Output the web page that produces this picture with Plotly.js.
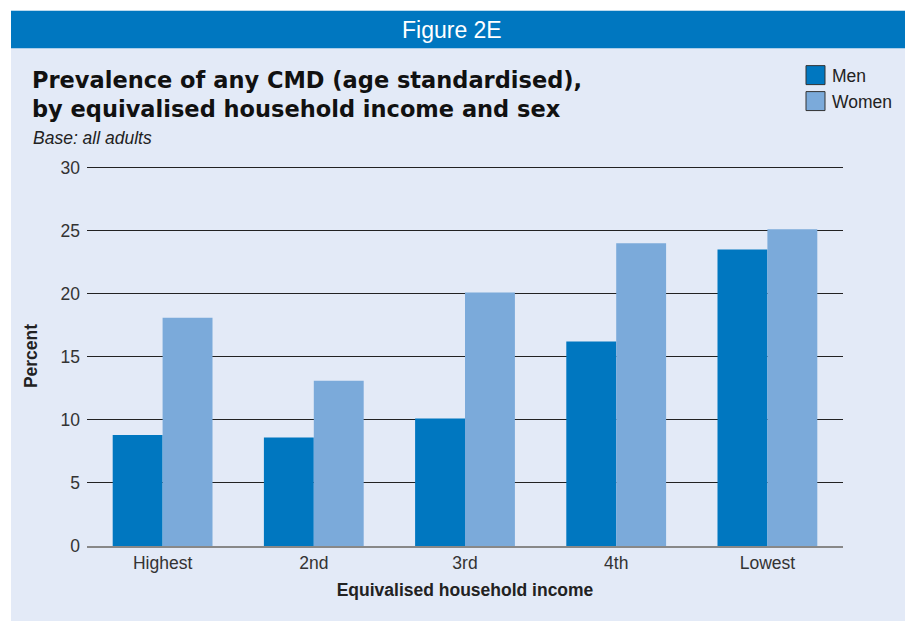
<!DOCTYPE html>
<html>
<head>
<meta charset="utf-8">
<script src="https://cdn.plot.ly/plotly-3.0.1.min.js"></script>
<style>
html,body{margin:0;padding:0;background:#fff;}
#chart{width:905px;height:621px;}
</style>
</head>
<body>
<div id="chart"></div>
<script>
const categories = ["Highest", "2nd", "3rd", "4th", "Lowest"];
const menValues = [8.8, 8.6, 10.1, 16.2, 23.5];
const womenValues = [18.1, 13.1, 20.1, 24.0, 25.1];
const seriesNames = ["Men", "Women"];
const yTicks = [0, 5, 10, 15, 20, 25, 30];

const W = 905, H = 621;
const M = {l: 87, r: 62, t: 165.5, b: 75};
const pw = W - M.l - M.r, ph = H - M.t - M.b;
const px = x => (x - M.l) / pw;
const py = y => (H - M.b - y) / ph;

const FONT = "Liberation Sans, Arial, sans-serif";
const TFONT = "DejaVu Sans, Liberation Sans, sans-serif";
const menColor = "#0077C0";
const womenColor = "#7BAADA";

const traces = [
  {type: "bar", name: seriesNames[0], x: categories, y: menValues,
   marker: {color: menColor}, showlegend: false, hoverinfo: "x+y"},
  {type: "bar", name: seriesNames[1], x: categories, y: womenValues,
   marker: {color: womenColor}, showlegend: false, hoverinfo: "x+y"}
];

const shapes = [
  {type: "rect", xref: "paper", yref: "paper", x0: px(11), x1: px(905), y0: py(621), y1: py(10),
   fillcolor: "#E3EAF7", line: {width: 0}, layer: "below"},
  {type: "rect", xref: "paper", yref: "paper", x0: px(11), x1: px(905), y0: py(47.5), y1: py(10),
   fillcolor: "#0077C0", line: {width: 0}, layer: "below"},
  {type: "rect", xref: "paper", yref: "paper", x0: px(806), x1: px(825), y0: py(84), y1: py(65),
   fillcolor: menColor, line: {color: "#333", width: 1}},
  {type: "rect", xref: "paper", yref: "paper", x0: px(806), x1: px(825), y0: py(110), y1: py(91),
   fillcolor: womenColor, line: {color: "#333", width: 1}}
];

const annotations = [
  {text: "Figure 2E", xref: "paper", yref: "paper", x: px(452), y: py(29), xanchor: "center", yanchor: "middle",
   showarrow: false, font: {family: FONT, size: 23, color: "#fff"}},
  {text: "Prevalence of any CMD (age standardised),<br>by equivalised household income and sex",
   xref: "paper", yref: "paper", x: px(30), y: py(64), xanchor: "left", yanchor: "top", align: "left",
   showarrow: false, font: {family: TFONT, size: 22.5, color: "#111", weight: "bold"}},
  {text: "<i>Base: all adults</i>", xref: "paper", yref: "paper", x: px(31), y: py(137), xanchor: "left", yanchor: "middle",
   showarrow: false, font: {family: FONT, size: 17.5, color: "#222"}},
  {text: seriesNames[0], xref: "paper", yref: "paper", x: px(830), y: py(75), xanchor: "left", yanchor: "middle",
   showarrow: false, font: {family: FONT, size: 17.5, color: "#222"}},
  {text: seriesNames[1], xref: "paper", yref: "paper", x: px(830), y: py(101), xanchor: "left", yanchor: "middle",
   showarrow: false, font: {family: FONT, size: 17.5, color: "#222"}}
];

const layout = {
  width: W, height: H,
  margin: M,
  paper_bgcolor: "#fff",
  plot_bgcolor: "rgba(0,0,0,0)",
  barmode: "group",
  bargap: 0.34,
  bargroupgap: 0,
  showlegend: false,
  font: {family: FONT, color: "#333"},
  xaxis: {
    type: "category",
    tickfont: {family: FONT, size: 17.5, color: "#333"},
    ticks: "", showgrid: false, zeroline: false,
    showline: true, linecolor: "#888", linewidth: 2,
    title: {text: "Equivalised household income", font: {family: FONT, size: 17.5, color: "#222", weight: "bold"}, standoff: 12}
  },
  yaxis: {
    range: [0, 30.12],
    tickvals: yTicks,
    ticktext: yTicks.map(String),
    tickfont: {family: FONT, size: 17.5, color: "#333"},
    ticks: "", showgrid: true, gridcolor: "#222", gridwidth: 1,
    zeroline: false, showline: false,
    ticklabelstandoff: 6,
    title: {text: "Percent", font: {family: FONT, size: 17.5, color: "#222", weight: "bold"}, standoff: 18}
  },
  shapes: shapes,
  annotations: annotations
};

Plotly.newPlot("chart", traces, layout, {displayModeBar: false, staticPlot: true});
</script>
</body>
</html>
